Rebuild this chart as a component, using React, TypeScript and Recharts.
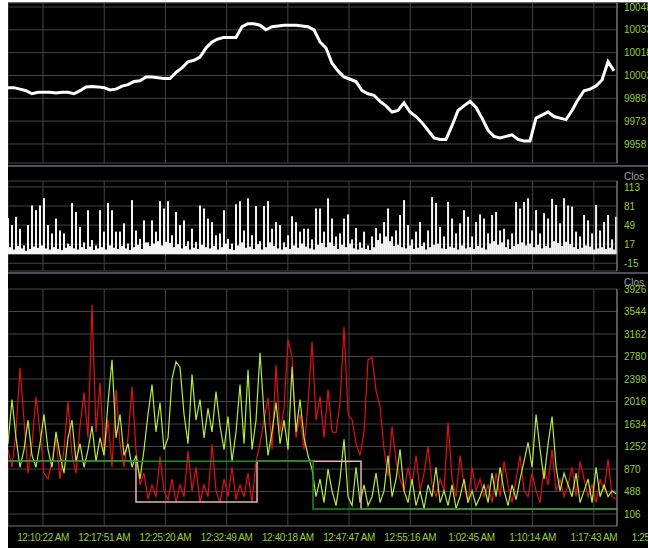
import { ComposedChart, Line, Bar, XAxis, YAxis, CartesianGrid } from 'recharts';

// time is seconds after midnight
const T_START = 365;
const T_END = 4833;
const PRICE_STEP = 44.02;
const FLOW_STEP = 29.35;

const timeTicks = [622, 1071, 1520, 1969, 2418, 2867, 3316, 3765, 4214, 4663, 5112];
const timeLabels = [
  '12:10:22 AM', '12:17:51 AM', '12:25:20 AM', '12:32:49 AM', '12:40:18 AM',
  '12:47:47 AM', '12:55:16 AM', '1:02:45 AM', '1:10:14 AM', '1:17:43 AM', '1:25:12 AM',
];

const priceTicks = [9958, 9973, 9988, 10003, 10018, 10033, 10048];
const volumeTicks = [-15, 17, 49, 81, 113];
const flowTicks = [106, 488, 870, 1252, 1634, 2016, 2398, 2780, 3162, 3544, 3926];

const closes = [
  9995, 9995, 9994, 9993, 9991, 9992, 9992, 9992, 9991.5, 9992,
  9992, 9991, 9993, 9995.5, 9995.7, 9995.5, 9995, 9993.5, 9994, 9996,
  9997, 9999, 9999.5, 10002, 10002, 10001.5, 10001, 10001, 10005, 10008,
  10012, 10013, 10015, 10021, 10025, 10027, 10028, 10028, 10028, 10035,
  10037, 10037, 10036, 10033, 10035, 10035.5, 10036, 10036, 10036, 10035.5,
  10035, 10033, 10025, 10021, 10011, 10006, 10002, 10000.5, 9999, 9993,
  9991, 9990, 9986, 9983, 9979, 9980, 9985, 9979, 9976, 9972,
  9967, 9962, 9961, 9961, 9970, 9980, 9983, 9986, 9982, 9975,
  9967, 9963, 9962, 9963, 9964, 9961, 9960, 9960, 9975, 9977,
  9979, 9976, 9975, 9974, 9980, 9987, 9993, 9994, 9996, 10000,
  10012, 10006,
];

const volumes = [
  61, 49, 63, 43, 15, 49, 82, 74, 82, 94,
  49, 35, 60, 40, 35, 18, 86, 71, 46, 20,
  74, 24, 15, 74, 38, 86, 74, 38, 38, 52,
  18, 91, 40, 26, 57, 20, 57, 38, 89, 77,
  89, 32, 71, 49, 57, 22, 43, 21, 82, 77,
  60, 54, 32, 35, 74, 26, 18, 84, 89, 40,
  94, 32, 81, 22, 81, 89, 43, 54, 49, 20,
  32, 64, 54, 38, 43, 43, 25, 77, 77, 38,
  94, 60, 30, 35, 60, 67, 25, 44, 20, 38,
  15, 30, 44, 35, 54, 77, 30, 40, 66, 91,
  49, 25, 38, 54, 20, 40, 96, 86, 46, 30,
  88, 60, 35, 52, 74, 63, 30, 54, 67, 60,
  35, 66, 71, 40, 43, 25, 35, 88, 77, 88,
  94, 40, 74, 35, 69, 60, 93, 83, 52, 94,
  82, 80, 38, 30, 66, 57, 35, 83, 40, 54,
  66, 25, 63,
];

// short bars that sit between the ones above
const volumesBetween = [
  12, 8, 14, 10, 6, 9, 13, 11, 15, 10,
  8, 12, 9, 7, 11, 14, 10, 8, 12, 9,
  13, 7, 10, 12, 8, 15, 11, 9, 14, 10,
  7, 12, 16, 9, 20, 14, 18, 22, 15, 21,
  19, 12, 17, 10, 14, 8, 11, 9, 16, 12,
  10, 14, 8, 12, 18, 9, 7, 15, 20, 11,
  13, 9, 17, 8, 12, 20, 14, 10, 8, 12,
  9, 15, 11, 18, 13, 10, 8, 16, 19, 12,
  20, 14, 9, 16, 12, 18, 10, 8, 11, 9,
  7, 12, 24, 18, 30, 22, 14, 16, 12, 10,
  15, 9, 11, 14, 8, 12, 16, 18, 10, 9,
  13, 11, 8, 15, 10, 12, 9, 14, 11, 8,
  18, 22, 16, 20, 12, 9, 14, 17, 20, 15,
  18, 12, 16, 10, 14, 11, 22, 19, 14, 21,
  17, 12, 9, 11, 15, 13, 8, 10, 12, 9,
  11, 8,
];

const redFlow = [
  1200, 900, 1500, 2590, 1700, 800, 1300, 2100, 1500, 800,
  700, 1000, 1400, 700, 1200, 2016, 1100, 800, 1593, 2168,
  1400, 3655, 1500, 2337, 1100, 1700, 900, 2218, 1300, 900,
  1400, 2269, 1200, 600, 800, 360, 600, 400, 1086, 500,
  350, 700, 300, 600, 400, 1170, 500, 900, 300, 600,
  400, 1289, 500, 300, 700, 400, 900, 350, 600, 400,
  800, 300, 1000, 1300, 1700, 2083, 1200, 2641, 1500, 1900,
  3063, 2776, 1400, 1800, 1200, 2000, 3030, 1700, 2100, 1400,
  2218, 1500, 1490, 2000, 3283, 1800, 1711, 1300, 1100, 1500,
  2725, 2759, 2200, 1931, 1200, 748, 1593, 1000, 700, 500,
  900, 600, 1100, 500, 800, 1255, 600, 400, 700, 500,
  1660, 700, 400, 1100, 600, 300, 900, 500, 700, 400,
  600, 300, 800, 400, 1000, 600, 300, 700, 1100, 500,
  400, 800, 500, 300, 900, 600, 1200, 500, 700, 400,
  600, 900, 400, 1000, 700, 400, 600, 300, 700, 500,
  1036, 400, 360,
];

const greenFlow = [
  1300, 2050, 1400, 900, 1200, 1700, 1100, 900, 1300, 1800,
  1200, 900, 1500, 1100, 800, 1400, 1700, 1000, 1300, 900,
  1200, 1600, 1000, 1400, 1100, 2000, 2725, 1400, 1800, 1100,
  1300, 900, 1100, 700, 1200, 1800, 2303, 1500, 2000, 1200,
  1400, 2400, 2692, 2600, 1800, 1300, 2472, 1700, 2050, 1400,
  1900, 1500, 2185, 1600, 1200, 1762, 1000, 1500, 2303, 1300,
  2556, 1200, 1700, 2844, 1800, 1100, 1500, 2000, 1300, 1700,
  1200, 2607, 1500, 2050, 1400, 1100, 866, 400, 700, 300,
  870, 500, 250, 700, 1373, 400, 250, 900, 300, 600,
  250, 400, 800, 300, 500, 1100, 400, 700, 1204, 500,
  300, 700, 250, 500, 200, 600, 400, 900, 300, 500,
  250, 600, 200, 400, 700, 300, 500, 250, 400, 600,
  300, 800, 400, 900, 500, 250, 600, 350, 700, 1000,
  1322, 900, 1796, 1200, 700, 1300, 1762, 900, 500, 800,
  600, 400, 800, 300, 500, 700, 300, 900, 400, 600,
  400, 500, 450,
];

// level lines (change times and values)
const greenLevelTimes = [365, 2603, 4833];
const greenLevels = [1000, 190, 190];
const pinkLevelTimes = [365, 1304, 2192, 2955, 4833];
const pinkLevels = [1000, 310, 1000, 190, 190];

const priceData = closes.map((v, i) => ({ t: T_START + i * PRICE_STEP, close: v }));

const volumeData: { t: number; vol: number }[] = [];
volumes.forEach((v, i) => {
  volumeData.push({ t: T_START + i * FLOW_STEP, vol: v });
  if (i < volumesBetween.length) {
    volumeData.push({ t: T_START + (i + 0.5) * FLOW_STEP, vol: volumesBetween[i] });
  }
});

const flowData = redFlow.map((r, i) => ({ t: T_START + i * FLOW_STEP, red: r, green: greenFlow[i] }));
const greenLevelData = greenLevelTimes.map((t, i) => ({ t, v: greenLevels[i] }));
const pinkLevelData = pinkLevelTimes.map((t, i) => ({ t, v: pinkLevels[i] }));

const font = '"Liberation Sans", Arial, sans-serif';
const tickStyle = { fill: '#9acd32', fontSize: 10, fontFamily: font };
const gridColor = '#444';
const axisColor = '#8c8c8c';

const xAxisProps = {
  type: 'number' as const,
  dataKey: 't',
  domain: [T_START, T_END],
  ticks: timeTicks,
  allowDataOverflow: true,
  interval: 0,
};

const yAxisProps = {
  orientation: 'right' as const,
  width: 31,
  allowDataOverflow: true,
  interval: 0,
  tickLine: false,
  tickSize: 5,
  tickMargin: 2,
  axisLine: { stroke: axisColor },
  tick: tickStyle,
};

const panelLine = (top: number) => (
  <div style={{ position: 'absolute', left: 0, top, width: 640, height: 2, background: '#4e4e58' }} />
);

const closLabel = (top: number) => (
  <div style={{ position: 'absolute', left: 616, top, fontSize: 10, fontFamily: font, color: '#a0a0a0' }}>Clos</div>
);

export default function App() {
  return (
    <div style={{ position: 'absolute', left: 8, top: 2, width: 640, height: 546, background: '#000', overflow: 'hidden' }}>
      <div style={{ position: 'absolute', left: 0, top: 0 }}>
        <ComposedChart width={640} height={165} data={priceData} margin={{ top: 1, right: 0, bottom: 4, left: 0 }}>
          <CartesianGrid stroke={gridColor} />
          <XAxis {...xAxisProps} hide />
          <YAxis {...yAxisProps} domain={[9945.5, 10050.6]} ticks={priceTicks} />
          <Line dataKey="close" stroke="#fff" strokeWidth={3} dot={false} isAnimationActive={false} />
        </ComposedChart>
      </div>

      <div style={{ position: 'absolute', left: 0, top: 165 }}>
        <ComposedChart width={640} height={105} data={volumeData} margin={{ top: 14, right: 0, bottom: 1, left: 0 }}>
          <CartesianGrid stroke={gridColor} />
          <XAxis {...xAxisProps} hide />
          <YAxis {...yAxisProps} domain={[-28, 123]} ticks={volumeTicks} />
          <Bar dataKey="vol" fill="#f4f4f4" barSize={2} isAnimationActive={false} />
        </ComposedChart>
      </div>

      <div style={{ position: 'absolute', left: 0, top: 272 }}>
        <ComposedChart width={640} height={274} data={flowData} margin={{ top: 15, right: 0, bottom: 0, left: 0 }}>
          <CartesianGrid stroke={gridColor} />
          <XAxis
            {...xAxisProps}
            height={22}
            axisLine={{ stroke: '#555' }}
            tickLine={false}
            tick={{ ...tickStyle, letterSpacing: -0.4 }}
            tickFormatter={(t: number) => timeLabels[timeTicks.indexOf(t)]}
          />
          <YAxis {...yAxisProps} domain={[-97, 3926]} ticks={flowTicks} />
          <Line dataKey="red" stroke="#e01018" strokeWidth={1.2} dot={false} isAnimationActive={false} />
          <Line dataKey="green" stroke="#b4ec40" strokeWidth={1.2} dot={false} isAnimationActive={false} />
          <Line data={pinkLevelData} dataKey="v" type="stepAfter" stroke="#e6b4b4" strokeWidth={1.5} dot={false} isAnimationActive={false} />
          <Line data={greenLevelData} dataKey="v" type="stepAfter" stroke="#1e8c1e" strokeWidth={1.5} dot={false} isAnimationActive={false} />
        </ComposedChart>
      </div>

      <div style={{ position: 'absolute', left: 0, top: 0, width: 640, height: 1, background: '#6a6a72' }} />
      {panelLine(163)}
      {panelLine(270)}
      {closLabel(169)}
      {closLabel(275)}
    </div>
  );
}
